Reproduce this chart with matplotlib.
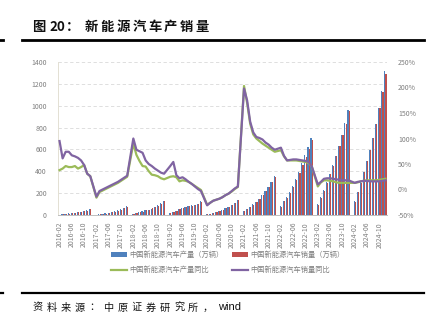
import numpy as np
import matplotlib
matplotlib.use('Agg')
import matplotlib.pyplot as plt
from matplotlib.ticker import PercentFormatter

plt.rcParams['font.family'] = ['Noto Sans CJK SC', 'DejaVu Sans']
plt.rcParams['axes.unicode_minus'] = False

years = list(range(2016, 2025))

# cumulative output / sales, 万辆, Feb..Dec of each year (Jan folded into Jan-Feb)
production = [
    [3.7, 7.2, 10.3, 14.1, 17.7, 21.9, 26.2, 29.9, 34.5, 43.0, 51.7],
    [3.1, 6.2, 8.9, 14.1, 21.2, 26.6, 34.3, 42.4, 51.7, 68.6, 79.4],
    [7.3, 15.5, 24.0, 34.0, 41.3, 49.3, 59.3, 73.0, 87.0, 105.4, 127.0],
    [14.6, 30.4, 40.6, 51.3, 61.4, 69.0, 77.9, 87.6, 95.5, 104.7, 124.2],
    [6.0, 10.5, 18.7, 26.0, 39.7, 49.3, 59.9, 73.7, 88.2, 108.0, 136.6],
    [34.3, 53.3, 75.6, 96.7, 121.5, 146.6, 181.3, 216.6, 256.0, 302.3, 354.5],
    [80.2, 129.3, 160.5, 207.1, 266.1, 327.9, 397.0, 471.7, 548.5, 625.3, 705.8],
    [97.7, 165.0, 229.1, 300.5, 378.8, 459.1, 543.4, 631.2, 735.2, 842.7, 958.7],
    [125.2, 211.5, 298.5, 392.6, 492.9, 591.4, 700.8, 831.6, 977.9, 1134.6, 1316.0],
]
sales = [
    [3.4, 6.8, 9.9, 13.6, 17.0, 21.0, 25.8, 28.9, 33.6, 40.2, 50.7],
    [2.6, 5.6, 8.8, 11.3, 19.5, 24.9, 31.9, 39.8, 49.0, 60.9, 77.7],
    [7.2, 15.0, 23.0, 32.0, 41.2, 49.6, 60.1, 72.1, 86.0, 103.0, 125.6],
    [14.3, 29.9, 39.7, 50.4, 61.7, 69.8, 78.0, 86.3, 94.7, 104.3, 120.6],
    [5.7, 11.4, 18.6, 26.3, 39.3, 49.1, 59.6, 73.2, 89.1, 109.1, 136.7],
    [33.4, 51.5, 72.2, 95.0, 120.6, 147.8, 179.9, 215.7, 256.6, 299.0, 352.1],
    [76.9, 125.7, 155.6, 200.3, 260.0, 319.4, 386.0, 456.7, 528.0, 606.7, 688.7],
    [93.3, 158.6, 222.2, 294.0, 374.7, 452.6, 537.4, 627.8, 728.0, 830.4, 949.5],
    [120.7, 209.0, 294.0, 389.5, 494.4, 593.4, 703.7, 832.0, 975.0, 1126.2, 1288.0],
]
# year-on-year growth, %
production_yoy = [
    [38, 41, 46, 44, 44, 46, 41, 44, 48, 31, 26],
    [-16, -5, -2, 1, 4, 7, 10, 13, 17, 21, 25],
    [90, 68, 56, 46, 45, 36, 29, 28, 26, 22, 20],
    [25, 26, 24, 16, 18, 17, 15, 11, 7, 3, -1],
    [-30, -26, -22, -20, -18, -15, -11, -8, -4, 1, 5],
    [203, 170, 129, 108, 100, 95, 90, 86, 82, 78, 74],
    [77, 65, 57, 57, 57, 57, 56, 55, 54, 52, 46],
    [6, 14, 18, 18, 17, 16, 14, 13, 13, 13, 13],
    [13, 14, 16, 17, 18, 18, 18, 18, 19, 20, 21],
]
sales_yoy = [
    [95, 61, 74, 74, 67, 65, 62, 57, 48, 31, 26],
    [-14, -3, 0, 3, 6, 9, 12, 15, 19, 23, 27],
    [100, 78, 75, 72, 57, 50, 46, 41, 37, 33, 31],
    [46, 54, 28, 22, 24, 20, 15, 11, 6, 1, -3],
    [-31, -26, -22, -20, -18, -15, -11, -8, -3, 2, 6],
    [198, 175, 133, 112, 103, 101, 98, 92, 88, 82, 78],
    [82, 66, 57, 58, 59, 59, 58, 57, 56, 54, 46],
    [10, 15, 21, 22, 22, 21, 20, 19, 18, 18, 18],
    [13, 15, 16, 17, 17, 16, 16, 16, 16, 17, 18],
]

BLUE = '#4F81BD'
RED = '#C0504D'
GREEN = '#9BBB59'
PURPLE = '#8064A2'
GRAY = '#7F7F7F'

W, H = 447, 327


def expand(rows):
    out = []
    for k, row in enumerate(rows):
        if k > 0:
            out.append(np.nan)  # January slot left empty
        out.extend(row)
    return np.array(out, dtype=float)


months = [f'{y}-{m:02d}' for y in years for m in range(1, 13) if not (y == 2016 and m == 1)]
x = np.arange(len(months))
prod = expand(production)
sale = expand(sales)
prod_g = expand(production_yoy) / 100
sale_g = expand(sales_yoy) / 100

fig = plt.figure(figsize=(W / 100, H / 100), dpi=100)
ax = fig.add_axes([58 / W, 1 - 215 / H, (387 - 58) / W, (215 - 62) / H])

b1 = ax.bar(x - 0.2, prod, width=0.38, color=BLUE, label='中国新能源汽车产量（万辆）')
b2 = ax.bar(x + 0.2, sale, width=0.38, color=RED, label='中国新能源汽车销量（万辆）')
ax.set_xlim(-0.5, len(months) - 0.5)
ax.set_ylim(0, 1400)
ax.set_yticks(range(0, 1401, 200))
ax.grid(axis='y', color='#D9D9D9', linestyle=(0, (4, 3)), linewidth=0.6)
ax.set_axisbelow(True)
ax.set_xticks(x[::4])
ax.set_xticklabels(months[::4], rotation=90)
ax.tick_params(axis='x', labelsize=5, colors=GRAY, length=0, pad=5)
ax.tick_params(axis='y', labelsize=5, colors=GRAY, length=0, pad=8)
for s in ['top', 'right']:
    ax.spines[s].set_visible(False)
ax.spines['left'].set_color('#E3E0D3')
ax.spines['bottom'].set_color('#BFBFBF')
ax.spines['left'].set_linewidth(0.7)
ax.spines['bottom'].set_linewidth(0.7)

ax2 = ax.twinx()
ok = ~np.isnan(prod_g)
l1, = ax2.plot(x[ok], prod_g[ok], color=GREEN, lw=1.6, label='中国新能源汽车产量同比')
l2, = ax2.plot(x[ok], sale_g[ok], color=PURPLE, lw=1.6, label='中国新能源汽车销量同比')
ax2.set_ylim(-0.5, 2.5)
ax2.set_yticks(np.arange(-0.5, 2.51, 0.5))
ax2.yaxis.set_major_formatter(PercentFormatter(1.0, decimals=0))
ax2.tick_params(axis='y', labelsize=5, colors=GRAY, length=0, pad=8)
for s in ax2.spines.values():
    s.set_visible(False)

fig.legend(handles=[b1, l1, b2, l2], ncol=2, loc='upper left',
           bbox_to_anchor=(108 / W, 1 - 248 / H), frameon=False,
           prop={'size': 5.2}, labelcolor=GRAY, handlelength=2.2,
           handleheight=0.6, handletextpad=0.3, columnspacing=1.2,
           labelspacing=1.0, borderaxespad=0)

# heading and source line
title_parts = [('图', 32), ('20', 49), ('：', 66)]
title_parts += [(c, 85 + k * 15.75) for k, c in enumerate('新能源汽车产销量')]
for t, px in title_parts:
    fig.text(px / W, 1 - 27 / H, t, fontsize=9.6, fontweight='heavy',
             color='#111111', va='center', ha='left')

src_parts = [(c, 32 + k * 14.2) for k, c in enumerate('资料来源：中原证券研究所，')]
for t, px in src_parts:
    fig.text(px / W, 1 - 307.5 / H, t, fontsize=7.3, color='#111111', va='center', ha='left')
fig.text(218 / W, 1 - 307.5 / H, 'wind', fontsize=8, color='#111111', va='center',
         ha='left', family=['Liberation Sans', 'DejaVu Sans'])

for yy, lw in [(40, 2.0), (293.3, 1.6)]:
    fig.add_artist(plt.Line2D([22 / W, 424 / W], [1 - yy / H, 1 - yy / H],
                              color='black', lw=lw, transform=fig.transFigure))
    fig.add_artist(plt.Line2D([0, 2.5 / W], [1 - yy / H, 1 - yy / H],
                              color='black', lw=lw, transform=fig.transFigure))

fig.savefig('out.png', dpi=100)
